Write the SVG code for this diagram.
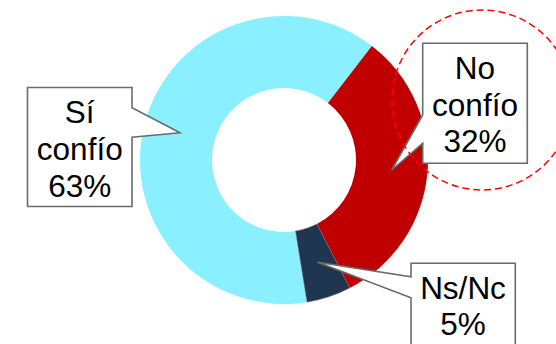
<svg xmlns="http://www.w3.org/2000/svg" width="556" height="344" viewBox="0 0 556 344">
<style>
.callout{fill:#fff;stroke:#6b6b6b;stroke-width:1.6;stroke-linejoin:miter}
.lbl{font-family:"Liberation Sans",Arial,sans-serif;font-size:31.5px;fill:#000;text-anchor:middle}
</style>
<rect width="556" height="344" fill="#fff"/>
<g id="donut">
<path id="slice-si" d="M307.02 302.14 A144 144 0 1 1 371.85 45.91 L327.93 102.95 A72 72 0 1 0 295.51 231.07 Z" fill="#8AF0FF"/>
<path id="slice-no" d="M371.85 45.91 A144 144 0 0 1 349.82 288.07 L316.91 224.04 A72 72 0 0 0 327.93 102.95 Z" fill="#C00000"/>
<path id="slice-nsnc" d="M349.82 288.07 A144 144 0 0 1 307.02 302.14 L295.51 231.07 A72 72 0 0 0 316.91 224.04 Z" fill="#20354F" stroke="#7a7a7a" stroke-width="0.5"/>
</g>
<g id="connectors">
</g>
<g id="callout-si">
<path class="callout" d="M27.5 87.5 H132 V107.7 L180 132.7 L132 137.3 V206.5 H27.5 Z"/>
<text class="lbl" x="79.75" y="123">Sí</text>
<text class="lbl" x="79.75" y="159.5">confío</text>
<text class="lbl" x="79.75" y="196.5">63%</text>
</g>
<g id="callout-no">
<path class="callout" d="M422.7 43.3 H527.3 V163.3 H422.7 V143.3 L391.7 170 L422.7 115 Z"/>
<text class="lbl" x="475" y="79">No</text>
<text class="lbl" x="475" y="115.5">confío</text>
<text class="lbl" x="475" y="152">32%</text>
</g>
<g id="callout-nsnc">
<path class="callout" d="M411 263.3 H515.3 V360 H411 V297.7 L317.7 262.3 L411 276.7 Z"/>
<text class="lbl" x="463" y="299">Ns/Nc</text>
<text class="lbl" x="463" y="335">5%</text>
</g>
<g id="highlight">
<circle cx="482" cy="100" r="90" fill="none" stroke="#FF0000" stroke-width="1.5" stroke-dasharray="7 4"/>
</g>
</svg>
